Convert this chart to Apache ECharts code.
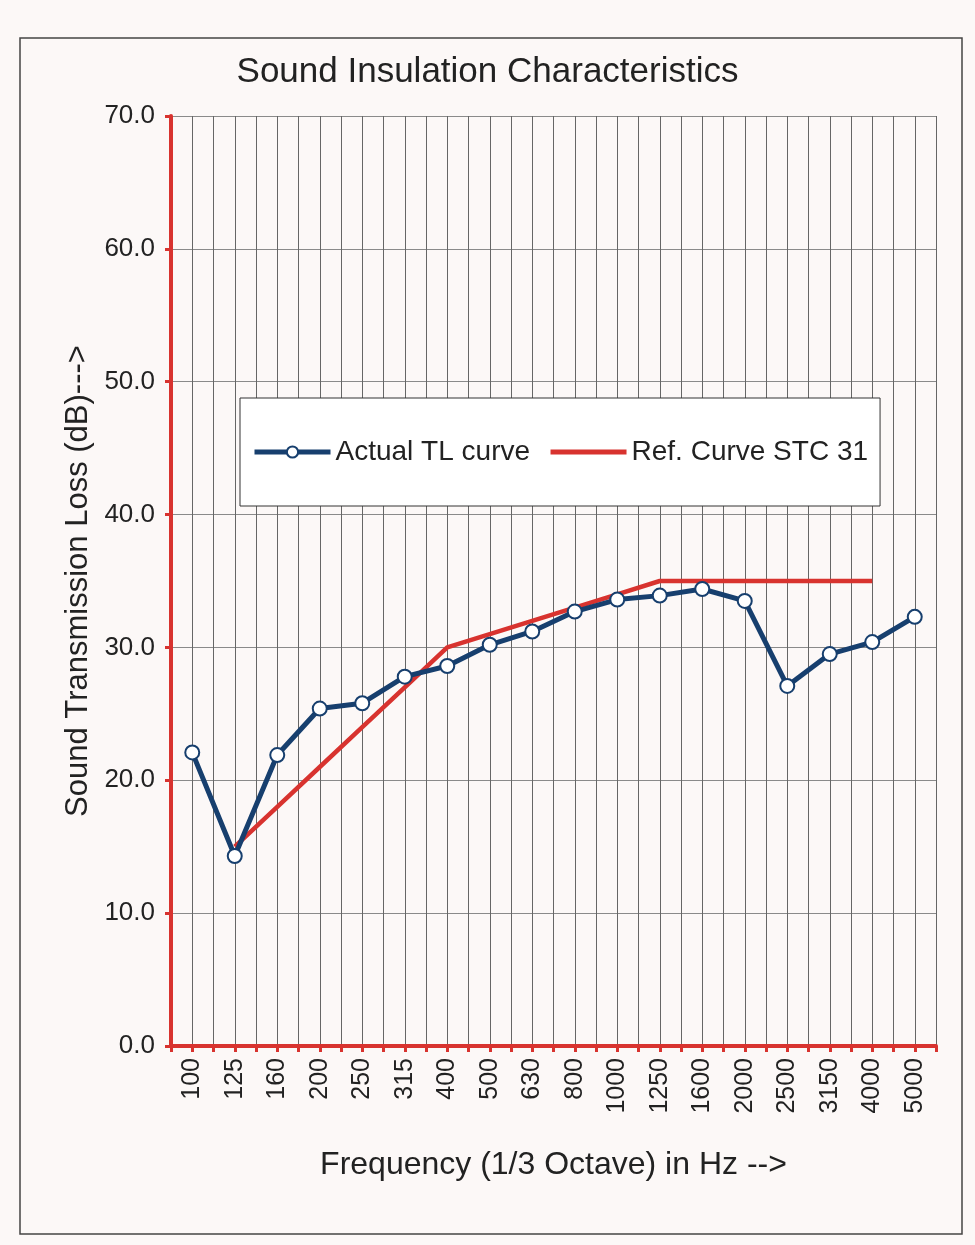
<!DOCTYPE html>
<html>
<head>
<meta charset="utf-8">
<script src="https://cdn.jsdelivr.net/npm/echarts@6/dist/echarts.min.js"></script>
<style>
  html, body { margin: 0; padding: 0; background: #fcf8f7; }
  #chart { width: 975px; height: 1245px; }
</style>
</head>
<body>
<div id="chart"></div>
<script>
// 1/3 octave bands
const freqs = ["100", "125", "160", "200", "250", "315", "400", "500", "630",
  "800", "1000", "1250", "1600", "2000", "2500", "3150", "4000", "5000"];
// measured transmission loss (dB)
const actualTL = [22.1, 14.3, 21.9, 25.4, 25.8, 27.8, 28.6, 30.2, 31.2,
  32.7, 33.6, 33.9, 34.4, 33.5, 27.1, 29.5, 30.4, 32.3];
// STC 31 reference contour, 125 - 4000 Hz
const refCurve = [null, 15, 18, 21, 24, 27, 30, 31, 32,
  33, 34, 35, 35, 35, 35, 35, 35, null];

const font = "Liberation Sans, Arial, sans-serif";
const red = "#d8332f";
const navy = "#173f6e";

const myChart = echarts.init(document.getElementById("chart"));
myChart.setOption({
  backgroundColor: "#fcf8f7",
  textStyle: { fontFamily: font },
  title: {
    text: "Sound Insulation Characteristics",
    left: "center",
    top: 50,
    textStyle: { fontSize: 35, fontWeight: "normal", color: "#222", fontFamily: font },
  },
  graphic: [
    {
      type: "rect",
      shape: { x: 20, y: 38, width: 942, height: 1196 },
      style: { fill: "none", stroke: "#444", lineWidth: 1.5 },
      silent: true,
    },
  ],
  grid: { left: 171, right: 39, top: 116, bottom: 199 },
  legend: {
    left: 240,
    top: 398,
    padding: [40, 12, 40, 12],
    itemGap: 18,
    itemWidth: 76,
    itemHeight: 14,
    backgroundColor: "#fff",
    borderColor: "#333",
    borderWidth: 1,
    lineStyle: { width: 5 },
    textStyle: { fontSize: 28, color: "#222", fontFamily: font },
    data: [
      { name: "Actual TL curve" },
      { name: "Ref. Curve STC 31", itemStyle: { opacity: 0 } },
    ],
  },
  xAxis: [
    {
      type: "category",
      data: freqs,
      boundaryGap: true,
      axisLine: { show: false },
      axisTick: { show: false },
      splitLine: { show: false },
      axisLabel: { rotate: 90, fontSize: 25, color: "#222", margin: 12, fontFamily: font },
      name: "Frequency (1/3 Octave) in Hz -->",
      nameLocation: "middle",
      nameGap: 103,
      nameTextStyle: { fontSize: 32, color: "#222", fontFamily: font },
    },
    {
      // half-category grid and ticks
      type: "value",
      min: 0,
      max: 18,
      interval: 0.5,
      position: "bottom",
      axisLine: { show: true, lineStyle: { color: red, width: 4 } },
      axisTick: { show: true, length: 6, lineStyle: { color: red, width: 3 } },
      axisLabel: { show: false },
      splitLine: { show: true, lineStyle: { color: "#666", width: 1 } },
    },
  ],
  yAxis: {
    type: "value",
    min: 0,
    max: 70,
    interval: 10,
    axisLine: { show: true, lineStyle: { color: red, width: 4 } },
    axisTick: { show: true, length: 6, lineStyle: { color: red, width: 3 } },
    axisLabel: {
      fontSize: 26,
      color: "#222",
      margin: 16,
      fontFamily: font,
      formatter: (v) => v.toFixed(1),
    },
    splitLine: { show: true, lineStyle: { color: "#8a8a8a", width: 1 } },
    name: "Sound Transmission Loss (dB)--->",
    nameLocation: "middle",
    nameGap: 74,
    nameTextStyle: { fontSize: 31, color: "#222", fontFamily: font },
  },
  series: [
    {
      name: "Actual TL curve",
      type: "line",
      xAxisIndex: 0,
      data: actualTL,
      symbol: "circle",
      symbolSize: 14,
      lineStyle: { color: navy, width: 5 },
      itemStyle: { color: "#fff", borderColor: navy, borderWidth: 2 },
      z: 3,
    },
    {
      name: "Ref. Curve STC 31",
      type: "line",
      xAxisIndex: 0,
      data: refCurve,
      symbol: "none",
      lineStyle: { color: red, width: 4.5 },
      itemStyle: { color: red },
      z: 2,
    },
  ],
});
</script>
</body>
</html>
